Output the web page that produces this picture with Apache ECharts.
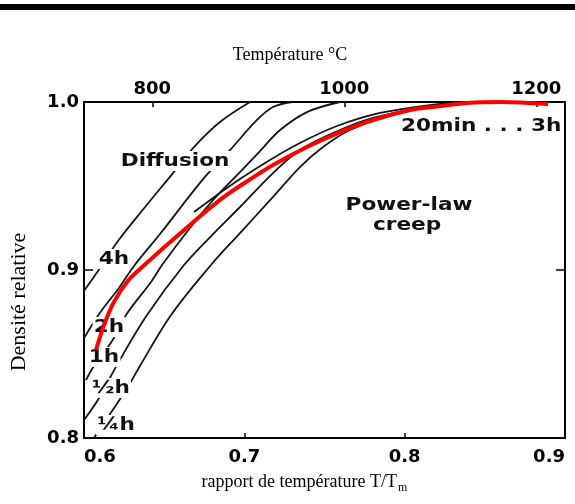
<!DOCTYPE html>
<html>
<head>
<meta charset="utf-8">
<script src="https://cdn.jsdelivr.net/npm/echarts@6/dist/echarts.min.js"></script>
<style>
  html, body { margin: 0; padding: 0; background: #fff; }
  #chart { width: 575px; height: 504px; }
</style>
</head>
<body>
<div id="chart"></div>
<script>
// T/Tm axis and the matching temperature scale on top
const ratioMin = 0.6
const ratioMax = 0.9
const densityMin = 0.8
const densityMax = 1.0
const meltingPointK = 1670
const tempTicks = [800, 1000, 1200]

// iso-time contours, [T/Tm, relative density]
const curve4h = [[0.600, 0.8875], [0.610, 0.9012], [0.6212, 0.9173], [0.6381, 0.9375], [0.6555, 0.9577], [0.6686, 0.9732], [0.6848, 0.9881], [0.7036, 1.0]]
const curve2h = [[0.600, 0.8595], [0.605, 0.8673], [0.6112, 0.8762], [0.6218, 0.8893], [0.6312, 0.9024], [0.6474, 0.9214], [0.6749, 0.9548], [0.6911, 0.9714], [0.7079, 0.9893], [0.7179, 0.997], [0.7298, 1.0]]
const curve1h = [[0.6012, 0.8345], [0.6062, 0.8429], [0.6175, 0.8577], [0.6262, 0.8732], [0.6418, 0.8929], [0.6487, 0.903], [0.6661, 0.925], [0.6817, 0.9429], [0.6973, 0.9583], [0.7098, 0.9708], [0.7223, 0.9833], [0.7391, 0.994], [0.7597, 1.0]]
const curveHalfH = [[0.600, 0.8107], [0.6094, 0.8238], [0.6206, 0.8435], [0.6393, 0.8732], [0.6624, 0.903], [0.6799, 0.9208], [0.6973, 0.9375], [0.7179, 0.9577], [0.7347, 0.9714], [0.7553, 0.9815], [0.7803, 0.9905], [0.8158, 0.9976], [0.8408, 1.0]]
const curveQuarterH = [[0.6062, 0.8], [0.6125, 0.8089], [0.620, 0.8196], [0.6274, 0.8304], [0.6349, 0.8429], [0.6543, 0.8732], [0.6792, 0.903], [0.6973, 0.922], [0.7179, 0.9435], [0.7347, 0.9613], [0.7491, 0.9732], [0.7659, 0.9833], [0.7953, 0.9935], [0.8221, 0.9982], [0.847, 1.0]]
const curveCreep = [[0.6686, 0.9345], [0.6936, 0.9518], [0.716, 0.9655], [0.7347, 0.9756], [0.7578, 0.9857], [0.7847, 0.9935], [0.8158, 0.9982], [0.8408, 1.0]]
// measured path (red)
const measured = [[0.6075, 0.8524], [0.6125, 0.8673], [0.6187, 0.881], [0.6268, 0.8929], [0.6356, 0.9012], [0.6624, 0.9238], [0.6873, 0.9435], [0.706, 0.9554], [0.7179, 0.9625], [0.7391, 0.9732], [0.7597, 0.9821], [0.7803, 0.9893], [0.8034, 0.9952], [0.8177, 0.997], [0.8389, 0.9994], [0.8595, 1.0], [0.8895, 0.9988]]

// text inside the plot, placed at [T/Tm, density]
const notes = [
  { text: 'Diffusion', at: [0.6568, 0.9649] },
  { text: 'Power-law', at: [0.8027, 0.9387] },
  { text: 'creep', at: [0.8015, 0.9268] },
  { text: '20min . . . 3h', at: [0.8477, 0.9857] },
  { text: '4h', at: [0.6187, 0.9065] },
  { text: '2h', at: [0.6156, 0.8661] },
  { text: '1h', at: [0.6125, 0.8482] },
  { text: '½h', at: [0.6168, 0.8298] },
  { text: '¼h', at: [0.620, 0.8077] }
]

const toCelsius = r => r * meltingPointK - 273.15
const boldFont = 'DejaVu Sans'
const serif = 'Liberation Serif'

const contour = (name, data) => ({
  name: name,
  type: 'line',
  data: data,
  smooth: 0.35,
  showSymbol: false,
  silent: true,
  lineStyle: { color: '#151515', width: 1.8 },
  z: 2
})

const chart = echarts.init(document.getElementById('chart'), null, { renderer: 'canvas' })

const option = {
  animation: false,
  backgroundColor: '#fff',
  grid: { left: 84, right: 10, top: 102, bottom: 66 },
  xAxis: [
    {
      type: 'value',
      min: ratioMin,
      max: ratioMax,
      interval: 0.1,
      splitLine: { show: false },
      axisLine: { lineStyle: { color: '#000', width: 2 } },
      axisTick: { inside: true, length: 5, lineStyle: { color: '#000', width: 1.5 } },
      axisLabel: {
        color: '#000', fontFamily: boldFont, fontWeight: 'bold', fontSize: 18, margin: 10,
        alignMinLabel: 'left', alignMaxLabel: 'right',
        formatter: v => v.toFixed(1)
      }
    },
    {
      type: 'value',
      position: 'top',
      min: toCelsius(ratioMin),
      max: toCelsius(ratioMax),
      splitLine: { show: false },
      axisLine: { lineStyle: { color: '#000', width: 2 } },
      axisTick: { inside: true, length: 5, customValues: tempTicks, lineStyle: { color: '#000', width: 1.5 } },
      axisLabel: {
        color: '#000', fontFamily: boldFont, fontWeight: 'bold', fontSize: 18, margin: 4,
        customValues: tempTicks,
        formatter: v => String(Math.round(v))
      }
    }
  ],
  yAxis: [
    {
      type: 'value',
      min: densityMin,
      max: densityMax,
      interval: 0.1,
      splitLine: { show: false },
      axisLine: { show: true, lineStyle: { color: '#000', width: 2 } },
      axisTick: { show: true, inside: true, length: 9, lineStyle: { color: '#000', width: 1.5 } },
      axisLabel: {
        color: '#000', fontFamily: boldFont, fontWeight: 'bold', fontSize: 18, margin: 5,
        formatter: v => v.toFixed(1)
      }
    },
    {
      type: 'value',
      position: 'right',
      min: densityMin,
      max: densityMax,
      interval: 0.1,
      splitLine: { show: false },
      axisLine: { show: true, lineStyle: { color: '#000', width: 2 } },
      axisTick: { show: true, inside: true, length: 9, lineStyle: { color: '#000', width: 1.5 } },
      axisLabel: { show: false }
    }
  ],
  series: [
    contour('4h', curve4h),
    contour('2h', curve2h),
    contour('1h', curve1h),
    contour('1/2h', curveHalfH),
    contour('1/4h', curveQuarterH),
    contour('creep', curveCreep),
    {
      name: 'measured',
      type: 'line',
      data: measured,
      smooth: 0.35,
      showSymbol: false,
      silent: true,
      lineStyle: { color: '#ff0000', width: 4 },
      z: 80
    }
  ]
}

chart.setOption(option)

// annotations and titles, positioned from the axes
const graphics = notes.map(n => {
  const p = chart.convertToPixel({ gridIndex: 0 }, n.at)
  return {
    type: 'text',
    x: p[0],
    y: p[1],
    scaleX: 1.2,
    z: 50,
    style: {
      text: n.text,
      fill: '#111',
      font: 'bold 18px "' + boldFont + '"',
      align: 'center',
      verticalAlign: 'middle',
      backgroundColor: '#fff',
      padding: [1, 1]
    }
  }
})

graphics.push(
  { type: 'rect', z: 50, shape: { x: 0, y: 4, width: 575, height: 6 }, style: { fill: '#000' } },
  {
    type: 'text', x: 290, y: 55, z: 50,
    style: { text: 'Température °C', fill: '#000', font: '18px "' + serif + '"', align: 'center', verticalAlign: 'middle' }
  },
  {
    type: 'text', x: 397, y: 482, z: 50,
    style: { text: 'rapport de température T/T', fill: '#000', font: '18px "' + serif + '"', align: 'right', verticalAlign: 'middle' }
  },
  {
    type: 'text', x: 398, y: 488, z: 50,
    style: { text: 'm', fill: '#000', font: '12px "' + serif + '"', align: 'left', verticalAlign: 'middle' }
  },
  {
    type: 'text', x: 19, y: 302, z: 50, rotation: Math.PI / 2,
    style: { text: 'Densité relative', fill: '#000', font: '22px "' + serif + '"', align: 'center', verticalAlign: 'middle' }
  }
)

chart.setOption({ graphic: graphics })
</script>
</body>
</html>
